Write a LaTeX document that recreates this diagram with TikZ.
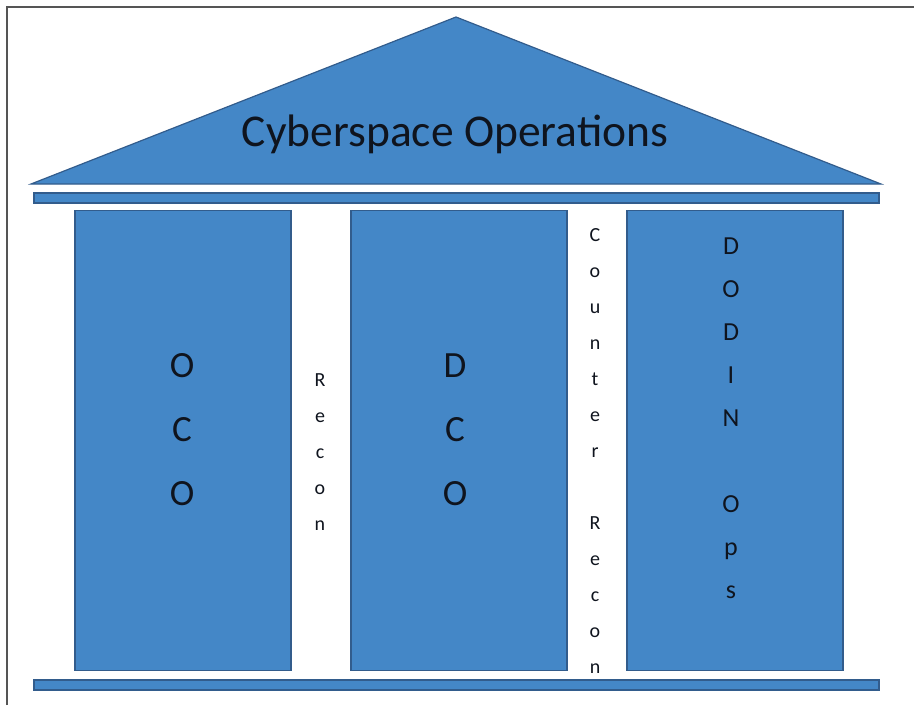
\documentclass[tikz,border=0pt]{standalone}
\usepackage{fontspec}
\setmainfont{Carlito}
\definecolor{pillarblue}{RGB}{68,135,199}
\definecolor{edgeblue}{RGB}{50,92,140}
\definecolor{frame}{RGB}{85,85,85}
\definecolor{ink}{RGB}{15,20,30}
\tikzset{
  part/.style={fill=pillarblue, draw=edgeblue, line width=1.3pt},
  pillar/.style={part, rectangle, inner sep=0pt, minimum width=216pt, minimum height=460pt},
  bar/.style={part, rectangle, inner sep=0pt, minimum width=845pt, minimum height=10pt},
  bigletters/.style={align=center, inner sep=0pt, text=ink, font=\fontsize{37}{64}\selectfont},
  smallletters/.style={align=center, inner sep=0pt, text=ink, font=\fontsize{20}{36}\selectfont},
  midletters/.style={align=center, inner sep=0pt, text=ink, font=\fontsize{26}{43}\selectfont},
}
\begin{document}
\begin{tikzpicture}[x=1pt,y=-1pt]
\useasboundingbox (0,0) rectangle (914,705);
% frame (left and top edges only)
\draw[frame, line width=1.5pt] (7,705) -- (7,7) -- (914,7);
% roof
\coordinate (apex) at (456,17);
\coordinate (roofL) at (31,184);
\coordinate (roofR) at (881,184);
\draw[part, line width=1.2pt] (roofL) -- (apex) -- (roofR) -- cycle;
\node[text=ink, font=\fontsize{45.5}{52}\selectfont] (title) at (455,134) {Cyberspace Operations};
% bars
\node[bar] (topbar) at (456.5,198) {};
\node[bar] (botbar) at (456.5,685) {};
% pillars
\node[pillar] (oco) at (183,440.5) {};
\node[pillar] (dco) at (459,440.5) {};
\node[pillar] (dodin) at (735,440.5) {};
% texts
\node[bigletters] (ocotext) at (182,430) {O\\C\\O};
\node[bigletters] (dcotext) at (455,430) {D\\C\\O};
\node[midletters] (dodintext) at (731,418) {D\\O\\D\\I\\N\\[43pt]O\\p\\s};
\node[smallletters] (recon) at (320,452) {R\\e\\c\\o\\n};
\node[smallletters] (counter) at (595,451) {C\\o\\u\\n\\t\\e\\r\\[36pt]R\\e\\c\\o\\n};
\end{tikzpicture}
\end{document}
